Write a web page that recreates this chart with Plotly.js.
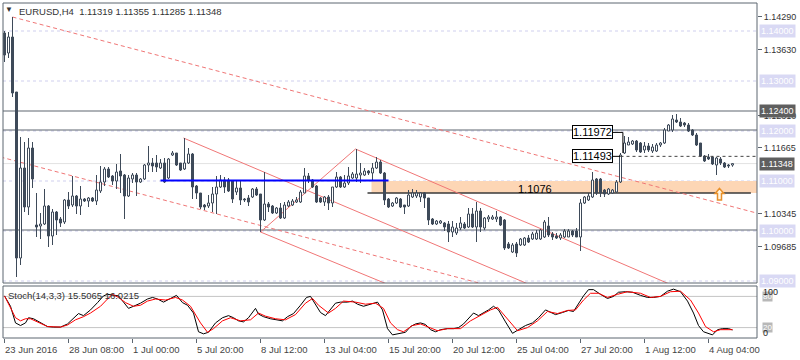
<!DOCTYPE html>
<html><head><meta charset="utf-8">
<script src="https://cdn.plot.ly/plotly-3.0.1.min.js"></script>
<style>html,body{margin:0;padding:0;background:#fff}#chart{width:800px;height:360px}</style>
</head><body><div id="chart"></div>
<script>
// ---------- data (EURUSD H4) ----------
const openP = [
1.1396,1.1356,1.1388,1.1278,1.0946,1.1126,1.1048,1.1166,1.1012,1.1010,
1.1014,1.1050,1.0990,1.1038,1.1024,1.1018,1.1062,1.1052,1.1070,1.1050,
1.1064,1.1060,1.1066,1.1060,1.1080,1.1098,1.1124,1.1110,1.1100,1.1120,
1.1112,1.1070,1.1104,1.1112,1.1098,1.1104,1.1132,1.1136,1.1136,1.1126,
1.1136,1.1106,1.1152,1.1156,1.1136,1.1124,1.1136,1.1154,1.1090,1.1076,
1.1052,1.1050,1.1056,1.1074,1.1088,1.1102,1.1102,1.1100,1.1078,1.1086,
1.1064,1.1066,1.1068,1.1084,1.1074,1.1022,1.1054,1.1050,1.1036,1.1046,
1.1026,1.1050,1.1052,1.1058,1.1058,1.1076,1.1110,1.1102,1.1090,1.1066,
1.1058,1.1068,1.1056,1.1088,1.1108,1.1088,1.1096,1.1106,1.1106,1.1112,
1.1112,1.1120,1.1116,1.1126,1.1138,1.1116,1.1064,1.1050,1.1056,1.1064,
1.1052,1.1050,1.1068,1.1070,1.1068,1.1076,1.1066,1.1024,1.1014,1.1016,
1.1016,1.1014,1.0998,1.0996,1.1006,1.1014,1.1008,1.1034,1.1008,1.1040,
1.1006,1.1024,1.1024,1.1024,1.1028,1.1022,1.0974,1.0958,1.0974,1.0972,
1.0972,1.0986,1.0984,1.0984,1.0984,1.0988,1.1010,1.0994,1.0990,1.0986,
1.0988,1.0988,1.1000,1.1000,1.0988,1.1056,1.1062,1.1068,1.1104,1.1104,
1.1082,1.1074,1.1076,1.1078,1.1098,1.1156,1.1172,1.1174,1.1180,1.1176,
1.1162,1.1170,1.1160,1.1160,1.1172,1.1176,1.1200,1.1202,1.1222,1.1218,
1.1216,1.1212,1.1202,1.1192,1.1176,1.1150,1.1148,1.1148,1.1132,1.1144,
1.1136,1.1132,1.11319];
const highP = [
1.1400,1.1398,1.1428,1.1278,1.1188,1.1178,1.1186,1.1178,1.1076,1.1036,
1.1084,1.1052,1.1044,1.1040,1.1028,1.1064,1.1078,1.1110,1.1072,1.1090,
1.1066,1.1068,1.1068,1.1112,1.1130,1.1128,1.1128,1.1112,1.1134,1.1154,
1.1114,1.1112,1.1116,1.1116,1.1106,1.1134,1.1170,1.1146,1.1152,1.1144,
1.1146,1.1146,1.1160,1.1156,1.1136,1.1186,1.1166,1.1156,1.1092,1.1076,
1.1054,1.1072,1.1088,1.1110,1.1112,1.1108,1.1106,1.1102,1.1100,1.1102,
1.1066,1.1072,1.1086,1.1088,1.1074,1.1118,1.1058,1.1052,1.1048,1.1056,
1.1058,1.1062,1.1064,1.1068,1.1082,1.1126,1.1116,1.1104,1.1092,1.1068,
1.1070,1.1072,1.1088,1.1118,1.1110,1.1112,1.1128,1.1118,1.1164,1.1136,
1.1126,1.1122,1.1136,1.1148,1.1142,1.1118,1.1066,1.1058,1.1068,1.1066,
1.1052,1.1082,1.1084,1.1082,1.1078,1.1078,1.1066,1.1026,1.1022,1.1022,
1.1018,1.1020,1.1020,1.1016,1.1028,1.1018,1.1046,1.1046,1.1058,1.1046,
1.1028,1.1032,1.1032,1.1040,1.1030,1.1024,1.0978,1.0976,1.0978,1.0986,
1.0988,1.0992,1.0998,1.1002,1.1004,1.1022,1.1028,1.0998,1.0996,1.0996,
1.1004,1.1004,1.1002,1.1006,1.1064,1.1070,1.1076,1.1118,1.1106,1.1106,
1.1084,1.1086,1.1084,1.1102,1.1156,1.1190,1.1188,1.1182,1.1182,1.1178,
1.1178,1.1176,1.1174,1.1176,1.1178,1.1206,1.1214,1.1232,1.1234,1.1226,
1.1218,1.1216,1.1204,1.1196,1.1176,1.1152,1.1154,1.1150,1.1148,1.1148,
1.1138,1.1134,1.11355];
const lowP = [
1.1338,1.1346,1.1268,1.0908,1.0932,1.1038,1.1032,1.1086,1.0988,1.0984,
1.1012,1.0968,1.0972,1.0992,1.1008,1.1014,1.1044,1.1048,1.1034,1.1032,
1.1058,1.1048,1.1058,1.1052,1.1076,1.1090,1.1106,1.1092,1.1084,1.1076,
1.1024,1.1068,1.1096,1.1070,1.1096,1.1102,1.1118,1.1118,1.1118,1.1124,
1.1096,1.1104,1.1150,1.1130,1.1120,1.1122,1.1134,1.1064,1.1064,1.1044,
1.1042,1.1046,1.1038,1.1034,1.1086,1.1076,1.1078,1.1056,1.1072,1.1052,
1.1058,1.1050,1.1066,1.1070,1.0998,1.1020,1.1038,1.1034,1.1034,1.1024,
1.1024,1.1048,1.1050,1.1056,1.1056,1.1076,1.1096,1.1086,1.1056,1.1056,
1.1050,1.1042,1.1048,1.1086,1.1086,1.1086,1.1092,1.1104,1.1098,1.1096,
1.1110,1.1112,1.1102,1.1124,1.1114,1.1052,1.1046,1.1048,1.1054,1.1046,
1.1034,1.1048,1.1066,1.1066,1.1058,1.1046,1.1012,1.1012,1.1012,1.1014,
1.1000,1.0978,1.0988,1.0992,1.1002,1.1004,1.1006,1.1006,1.0978,1.0998,
1.1002,1.1018,1.1022,1.1018,1.1010,1.0962,1.0964,1.0956,1.0948,1.0970,
1.0970,1.0976,1.0982,1.0982,1.0982,1.0986,1.0988,1.0982,1.0984,1.0982,
1.0986,1.0988,1.0988,1.0988,1.0960,1.1054,1.1060,1.1066,1.1072,1.1068,
1.1068,1.1072,1.1074,1.1076,1.1096,1.1154,1.1172,1.1172,1.1158,1.1156,
1.1156,1.1158,1.1156,1.1158,1.1168,1.1174,1.1200,1.1198,1.1216,1.1208,
1.1208,1.1198,1.1190,1.1170,1.1148,1.1138,1.1142,1.1132,1.1112,1.1132,
1.1126,1.1126,1.11285];
const closeP = [
1.1352,1.1388,1.1276,1.0946,1.1126,1.1048,1.1166,1.1104,1.1008,1.1014,
1.1050,1.0990,1.1038,1.1022,1.1016,1.1062,1.1050,1.1070,1.1050,1.1064,
1.1060,1.1066,1.1060,1.1082,1.1098,1.1124,1.1108,1.1100,1.1118,1.1110,
1.1070,1.1106,1.1112,1.1098,1.1104,1.1132,1.1136,1.1130,1.1128,1.1136,
1.1098,1.1144,1.1156,1.1132,1.1122,1.1136,1.1154,1.1088,1.1076,1.1048,
1.1048,1.1056,1.1074,1.1088,1.1102,1.1088,1.1080,1.1064,1.1086,1.1062,
1.1062,1.1058,1.1084,1.1072,1.1022,1.1054,1.1048,1.1036,1.1046,1.1026,
1.1052,1.1058,1.1060,1.1062,1.1078,1.1110,1.1102,1.1088,1.1058,1.1058,
1.1068,1.1056,1.1088,1.1108,1.1088,1.1096,1.1110,1.1114,1.1114,1.1116,
1.1120,1.1116,1.1126,1.1138,1.1116,1.1062,1.1048,1.1056,1.1066,1.1048,
1.1048,1.1072,1.1076,1.1076,1.1076,1.1066,1.1022,1.1014,1.1020,1.1020,
1.1008,1.0998,1.1008,1.1006,1.1016,1.1006,1.1034,1.1008,1.1040,1.1008,
1.1026,1.1028,1.1028,1.1028,1.1012,1.0966,1.0966,1.0972,1.0956,1.0984,
1.0986,1.0978,1.0994,1.0996,1.1002,1.1018,1.0992,1.0988,1.0986,1.0992,
1.1000,1.1000,1.0992,1.0988,1.1056,1.1068,1.1070,1.1102,1.1076,1.1076,
1.1074,1.1084,1.1082,1.1098,1.1152,1.1176,1.1178,1.1180,1.1162,1.1158,
1.1170,1.1162,1.1168,1.1172,1.1176,1.1202,1.1212,1.1224,1.1218,1.1210,
1.1212,1.1200,1.1192,1.1172,1.1150,1.1140,1.1144,1.1134,1.1146,1.1136,
1.1128,1.1130,1.11348];

// stochastic %K (black) and %D (red), sampled at bar positions
const kX = [0,1.5,2.75,4,5.25,6,7.25,9,10.75,12.25,14,15.75,17.25,18.5,19.75,21.5,23.25,24.75,25.75,27,28.5,29.75,31,32.25,34,35.75,37,38.25,39.75,41.5,43,44.5,45.75,47.25,48.5,49.75,51,52.75,54.5,56,57.25,58.5,59.75,61,62.75,63.5,64.75,66.5,68.25,69.5,70.75,72.25,74,75.5,76.5,77.75,79,80.25,81.5,82.75,84,85.75,87,88.25,89.75,91.5,93.25,94.5,95.75,97,98.25,99.5,100.25,101.5,102.75,104,105.25,106.5,107.75,109,110.75,112.25,113.5,114.75,116,117.25,118.5,119.75,121,122.25,123.5,125.25,127,128.5,130.25,132,133.5,135.25,136.5,137.75,139.5,141,142.25,143.5,144.75,146,147.25,149,150.75,152.25,153.5,155.25,157,159,160.75,162.25,164,165.75,167.25,169,170.75,172.25,173.5,174.75,176,177,178.25,179.5,181,182];
const kVals = [81,61,29,24,29,39,37,29,22,21,21,27,39,47,43,54,68,81,84,82,81,69,57,61,67,75,78,75,69,76,82,68,63,48,12,8,11,29,39,43,39,33,31,39,57,46,41,37,35,33,41,47,63,78,80,65,49,43,54,67,69,69,71,65,61,65,69,54,18,6,8,9,11,22,27,29,26,16,12,16,18,18,20,27,37,48,43,48,54,61,54,31,9,16,24,29,39,54,49,45,49,53,51,67,81,93,93,84,76,80,88,89,88,82,78,78,80,90,94,89,71,48,24,12,8,6,16,18,18,15.5065];
const dX = [0,2.75,4,5.25,6.5,8.25,10.75,14,15.75,17.75,19.75,21.5,24,25.75,27,28.5,30.25,32.25,34,35.75,37.75,40.25,42.75,44.5,46.5,49,50.75,52.25,54.5,56.5,59,61.5,63.5,65.25,67.75,70.25,72.75,75.25,77,78.5,81,82.75,84.75,87.75,90.25,92.75,94.75,96.5,98.25,99.75,102,104,105.75,108.25,110.75,114,116.5,119,121.5,123.25,125.75,128.25,130.75,133.25,135.75,138.25,140.75,142.75,144.75,146.5,148.5,150.75,153.25,155.75,159,161.5,164,166.5,169,171.5,173.5,175.25,177.25,179,182];
const dVals = [81,39,33,37,37,31,22,21,25,35,41,48,61,75,84,78,68,61,63,71,75,73,78,73,61,29,11,18,33,39,33,35,48,42,37,35,45,67,76,63,48,57,71,69,65,67,57,29,16,12,24,27,22,14,18,18,33,43,54,59,37,14,20,33,51,47,53,54,73,86,86,78,84,89,86,78,80,89,90,73,48,22,12,16,16.0215];

const tickBars = [0,16,32,48,64,80,96,112,128,144,160,176];
const tickLabels = ['23 Jun 2016','28 Jun 08:00','1 Jul 00:00','5 Jul 20:00','8 Jul 12:00','13 Jul 04:00','15 Jul 20:00','20 Jul 12:00','25 Jul 04:00','27 Jul 20:00','1 Aug 12:00','4 Aug 04:00'];
const priceTicks = [1.14290,1.13630,1.12310,1.11665,1.10345,1.09685];
const roundLevels = [1.14,1.13,1.12,1.11,1.10,1.09];
const solidLevels = [1.1240,1.1202,1.1002];
const bidPrice = 1.11348;
const zoneTop = 1.1100, zoneBottom = 1.1076;
const boxLevels = [1.11972,1.11493];
const blueLevel = 1.1101;

// ---------- build ----------
const CANDLE = '#3e4a59', FRAME = '#5c6670', RED = '#f07676', FONT = 'Liberation Sans, Arial, sans-serif';
const N = openP.length;
const upX=[],upB=[],upH=[],dnX=[],dnB=[],dnH=[],wx=[],wy=[];
for (let i=0;i<N;i++){
  const o=openP[i], c=closeP[i];
  const lo=Math.min(o,c), hi=Math.max(o,c);
  const h=Math.max(hi-lo,0.00004);
  if (c>=o){upX.push(i);upB.push(lo);upH.push(h);} else {dnX.push(i);dnB.push(lo);dnH.push(h);}
  wx.push(i,i,null,i,i,null);
  wy.push(lowP[i],lo,null,lo+h,highP[i],null);
}
const traces = [
  {type:'scatter',mode:'lines',x:wx,y:wy,line:{color:CANDLE,width:1},hoverinfo:'skip',xaxis:'x',yaxis:'y'},
  {type:'bar',x:upX,y:upH,base:upB,width:0.5,marker:{color:'#ffffff',line:{color:CANDLE,width:1}},hoverinfo:'skip',xaxis:'x',yaxis:'y'},
  {type:'bar',x:dnX,y:dnH,base:dnB,width:0.5,marker:{color:CANDLE,line:{color:CANDLE,width:1}},hoverinfo:'skip',xaxis:'x',yaxis:'y'},
  {type:'scatter',mode:'lines',x:kX,y:kVals,line:{color:'#000000',width:1},hoverinfo:'skip',xaxis:'x',yaxis:'y2'},
  {type:'scatter',mode:'lines',x:dX,y:dVals,line:{color:'#ff0000',width:1},hoverinfo:'skip',xaxis:'x',yaxis:'y2'}
];

const shapes = [];
shapes.push({type:'rect',xref:'x',yref:'y',x0:91.75,x1:200,y0:zoneBottom,y1:zoneTop,fillcolor:'#fdd6b5',line:{width:0},layer:'below'});
roundLevels.forEach(l=>shapes.push({type:'line',xref:'paper',yref:'y',x0:0,x1:1,y0:l,y1:l,line:{color:'#cfcfee',width:1,dash:'3px,3px'},layer:'below'}));
solidLevels.forEach(l=>shapes.push({type:'line',xref:'paper',yref:'y',x0:0,x1:1,y0:l,y1:l,line:{color:'#5e6670',width:1.2},layer:'below'}));
shapes.push({type:'line',xref:'paper',yref:'y',x0:0,x1:1,y0:bidPrice,y1:bidPrice,line:{color:'#e2e2e2',width:1},layer:'below'});
shapes.push({type:'line',xref:'x',yref:'y',x0:90.75,x1:186.6,y0:zoneBottom,y1:zoneBottom,line:{color:'#3a3a3a',width:1.5},layer:'below'});
const redDashed = [[2,1.1428,188,1.1036],[-1,1.1148,121,1.0891]];
redDashed.forEach(s=>shapes.push({type:'line',xref:'x',yref:'y',x0:s[0],y0:s[1],x1:s[2],y1:s[3],line:{color:RED,width:1,dash:'4px,3px'},layer:'below'}));
const redSolid = [[44.75,1.1186,131.5,1.0892],[87.75,1.1164,166.5,1.0893],[64,1.0998,96.5,1.0891],[64,1.0998,87.75,1.1164]];
redSolid.forEach(s=>shapes.push({type:'line',xref:'x',yref:'y',x0:s[0],y0:s[1],x1:s[2],y1:s[3],line:{color:RED,width:1},layer:'below'}));
shapes.push({type:'line',xref:'x',yref:'y',x0:39,x1:96,y0:blueLevel,y1:blueLevel,line:{color:'#0000ff',width:2}});
shapes.push({type:'path',xref:'x',yref:'y',path:`M 152.1,${boxLevels[0]} L 154.6,${boxLevels[0]} L 154.6,1.1156`,line:{color:'#000',width:1}});
shapes.push({type:'line',xref:'x',yref:'y',x0:152.1,x1:154,y0:boxLevels[1],y1:boxLevels[1],line:{color:'#000',width:1}});
shapes.push({type:'line',xref:'x',yref:'y',x0:154,x1:200,y0:boxLevels[1],y1:boxLevels[1],line:{color:'#444',width:1,dash:'3px,3px'}});
const ac=178.75, at=1.1085, am=1.1075, ab=1.1062;
shapes.push({type:'path',xref:'x',yref:'y',path:`M ${ac},${at} L ${ac+1.1},${am} L ${ac+0.5},${am} L ${ac+0.5},${ab} L ${ac-0.5},${ab} L ${ac-0.5},${am} L ${ac-1.1},${am} Z`,fillcolor:'#fff4e0',line:{color:'#e8902a',width:1.5}});
[80,20].forEach(l=>shapes.push({type:'line',xref:'paper',yref:'y2',x0:0,x1:1,y0:l,y1:l,line:{color:'#c4c4c4',width:1},layer:'below'}));
const mainBottom = (338-283)/335, stochTop = (338-286)/335;
shapes.push({type:'rect',xref:'paper',yref:'paper',x0:0,x1:1,y0:mainBottom,y1:1,line:{color:FRAME,width:1}});
shapes.push({type:'rect',xref:'paper',yref:'paper',x0:0,x1:1,y0:0,y1:stochTop,line:{color:FRAME,width:1}});

const ann = [];
ann.push({xref:'paper',yref:'paper',x:(9-3)/754,y:(338-10)/335,text:'▼',showarrow:false,font:{family:FONT,size:8,color:'#333'},xanchor:'center',yanchor:'middle'});
ann.push({xref:'paper',yref:'paper',x:(17-3)/754,y:(338-11)/335,text:'EURUSD,H4&nbsp;&nbsp;1.11319 1.11355 1.11285 1.11348',showarrow:false,font:{family:FONT,size:9.5,color:'#333'},xanchor:'left',yanchor:'middle'});
ann.push({xref:'paper',yref:'paper',x:(6-3)/754,y:(338-295)/335,text:'Stoch(14,3,3) 15.5065 16.0215',showarrow:false,font:{family:FONT,size:9.5,color:'#333'},xanchor:'left',yanchor:'middle'});
tickBars.forEach((b,k)=>ann.push({xref:'x',yref:'paper',x:b-0.35,y:0,yshift:-11,text:tickLabels[k],showarrow:false,font:{family:FONT,size:9.5,color:'#444'},xanchor:'left',yanchor:'middle'}));
roundLevels.forEach(l=>ann.push({xref:'paper',yref:'y',x:1,xshift:2,y:l,text:l.toFixed(5),showarrow:false,font:{family:FONT,size:9,color:'#ffffff'},bgcolor:'#d9d9f4',borderpad:1,xanchor:'left',yanchor:'middle'}));
ann.push({xref:'paper',yref:'y',x:1,xshift:2,y:1.1240,text:'1.12400',showarrow:false,font:{family:FONT,size:9,color:'#ffffff'},bgcolor:'#5f5f5f',borderpad:1,xanchor:'left',yanchor:'middle'});
ann.push({xref:'paper',yref:'y',x:1,xshift:2,y:bidPrice,text:'1.11348',showarrow:false,font:{family:FONT,size:9,color:'#ffffff'},bgcolor:'#5f5f5f',borderpad:1,xanchor:'left',yanchor:'middle'});
ann.push({xref:'x',yref:'y',x:132.5,y:zoneBottom,yshift:4.5,text:'1.1076',showarrow:false,font:{family:FONT,size:11,color:'#000'},xanchor:'center',yanchor:'middle'});
ann.push({xref:'x',yref:'y',x:146.9,y:boxLevels[0],text:'1.11972',showarrow:false,font:{family:FONT,size:11,color:'#000'},bgcolor:'#fff',bordercolor:'#000',borderwidth:1,borderpad:0,xanchor:'center',yanchor:'middle'});
ann.push({xref:'x',yref:'y',x:146.9,y:boxLevels[1],text:'1.11493',showarrow:false,font:{family:FONT,size:11,color:'#000'},bgcolor:'#fff',bordercolor:'#000',borderwidth:1,borderpad:0,xanchor:'center',yanchor:'middle'});
ann.push({xref:'paper',yref:'y2',x:1,xshift:5,y:80,text:'80',showarrow:false,font:{family:FONT,size:8,color:'#fff'},bgcolor:'#b8b8b8',borderpad:0,xanchor:'left',yanchor:'middle'});
ann.push({xref:'paper',yref:'y2',x:1,xshift:5,y:20,text:'20',showarrow:false,font:{family:FONT,size:8,color:'#fff'},bgcolor:'#b8b8b8',borderpad:0,xanchor:'left',yanchor:'middle'});
ann.push({xref:'paper',yref:'y2',x:1,xshift:4,y:89,text:'100',showarrow:false,font:{family:FONT,size:9,color:'#222'},xanchor:'left',yanchor:'middle'});
ann.push({xref:'paper',yref:'y2',x:1,xshift:4,y:9,text:'0',showarrow:false,font:{family:FONT,size:9,color:'#222'},xanchor:'left',yanchor:'middle'});

const layout = {
  width:800,height:360,margin:{l:3,r:43,t:3,b:22},
  paper_bgcolor:'#ffffff',plot_bgcolor:'#ffffff',showlegend:false,barmode:'overlay',
  xaxis:{range:[-0.375,188.125],anchor:'y2',tickvals:tickBars,ticks:'outside',ticklen:4,tickcolor:FRAME,showticklabels:false,showgrid:false,zeroline:false,showline:false,fixedrange:true},
  yaxis:{domain:[mainBottom,1],range:[1.0896,1.1456],side:'right',anchor:'x',tickvals:priceTicks,ticktext:priceTicks.map(v=>v.toFixed(5)),ticks:'outside',ticklen:4,tickcolor:FRAME,tickfont:{family:FONT,size:9,color:'#333'},showgrid:false,zeroline:false,showline:false,fixedrange:true},
  yaxis2:{domain:[0,stochTop],range:[0,100],side:'right',anchor:'x',showticklabels:false,ticks:'',showgrid:false,zeroline:false,showline:false,fixedrange:true},
  shapes:shapes,annotations:ann
};
Plotly.newPlot('chart',traces,layout,{staticPlot:true,displayModeBar:false});
</script></body></html>
